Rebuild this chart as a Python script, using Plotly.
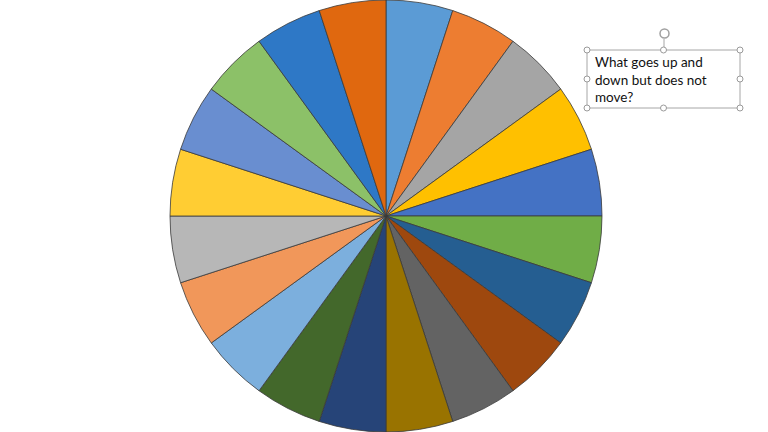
import plotly.graph_objects as go

W, H = 768, 432

# slices, clockwise from 12 o'clock
slice_labels = [str(i) for i in range(1, 21)]
slice_values = [1] * 20
slice_colors = [
    "#5B9BD5", "#ED7D31", "#A5A5A5", "#FFC000", "#4472C4",
    "#70AD47", "#255E91", "#9E480E", "#636363", "#997300",
    "#264478", "#43682B", "#7CAFDD", "#F1975A", "#B7B7B7",
    "#FFCD33", "#698ED0", "#8CC168", "#2E78C6", "#E0680F",
]
box_text = "What goes up and<br>down but does not<br>move?"


def px(x):
    return x / W


def py(y):
    return 1 - y / H


fig = go.Figure(go.Pie(
    labels=slice_labels,
    values=slice_values,
    sort=False,
    direction="clockwise",
    rotation=0,
    textinfo="none",
    hoverinfo="label",
    marker=dict(colors=slice_colors, line=dict(color="#3a3a3a", width=0.8)),
    domain=dict(x=[px(386 - 230), px(386 + 230)], y=[0, 1]),
    showlegend=False,
))

# text box with selection frame
bx0, by0, bx1, by1 = 587, 50, 740, 108
shapes = [
    dict(type="line", xref="paper", yref="paper", x0=px(664), x1=px(664),
         y0=py(by0), y1=py(39), line=dict(color="#a6a6a6", width=1)),
    dict(type="circle", xref="paper", yref="paper", x0=px(660), x1=px(669),
         y0=py(38), y1=py(29), line=dict(color="#a0a0a0", width=1.5),
         fillcolor="white"),
    dict(type="rect", xref="paper", yref="paper", x0=px(bx0), x1=px(bx1),
         y0=py(by1), y1=py(by0), line=dict(color="#a6a6a6", width=1),
         fillcolor="rgba(0,0,0,0)"),
]
handles = [(bx0, by0), ((bx0 + bx1) / 2, by0), (bx1, by0),
           (bx0, (by0 + by1) / 2), (bx1, (by0 + by1) / 2),
           (bx0, by1), ((bx0 + bx1) / 2, by1), (bx1, by1)]
for hx, hy in handles:
    r = 3
    shapes.append(dict(type="circle", xref="paper", yref="paper",
                       x0=px(hx - r), x1=px(hx + r), y0=py(hy + r), y1=py(hy - r),
                       line=dict(color="#9a9a9a", width=1), fillcolor="white"))

fig.update_layout(
    width=W, height=H,
    margin=dict(l=0, r=0, t=0, b=0),
    paper_bgcolor="white",
    plot_bgcolor="white",
    shapes=shapes,
    annotations=[
        dict(x=px(593), y=py(52), xref="paper", yref="paper", xanchor="left",
             yanchor="top", align="left", showarrow=False, text=box_text,
             font=dict(family="Lato, Open Sans, sans-serif", size=13.5, color="#111111")),
    ],
)

# browser default body margin would shift the figure by 8px
fig.write_html("out.html", config={"displayModeBar": False},
               post_script="document.body.style.margin='0';")
